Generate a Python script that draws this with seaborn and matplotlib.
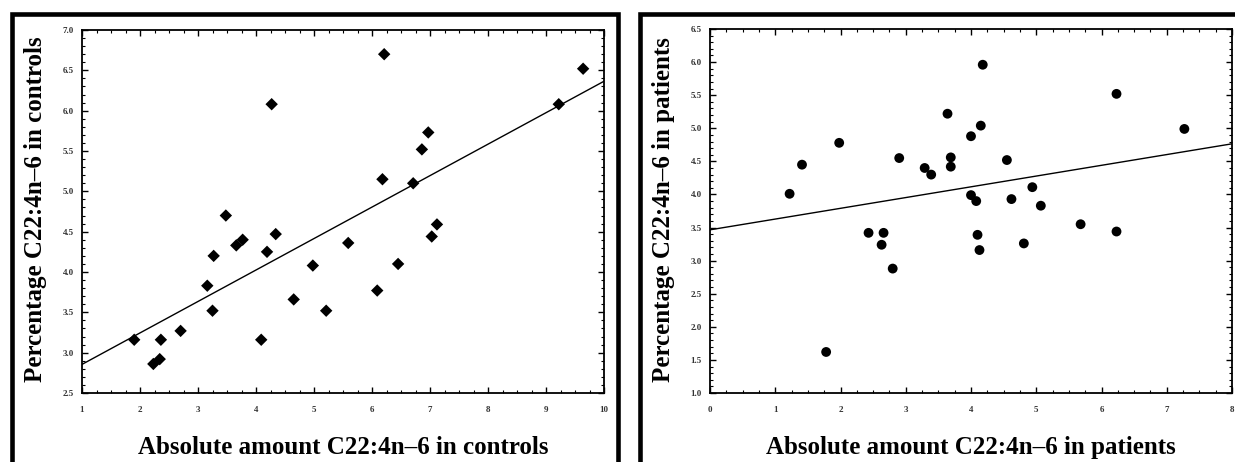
import numpy as np
import pandas as pd
import matplotlib
matplotlib.use("Agg")
import matplotlib.pyplot as plt
import seaborn as sns
from matplotlib.patches import Rectangle
from matplotlib.ticker import MultipleLocator

# ---- data ----
ctrl_abs = [1.90, 2.23, 2.34, 2.36, 2.70, 3.16, 3.25, 3.27, 3.48, 3.66,
            3.77, 4.09, 4.19, 4.27, 4.34, 4.65, 4.98, 5.21, 5.59, 6.09,
            6.18, 6.21, 6.45, 6.71, 6.86, 6.97, 7.03, 7.12, 9.22, 9.64]
ctrl_pct = [3.16, 2.86, 2.92, 3.16, 3.27, 3.83, 3.52, 4.20, 4.70, 4.33,
            4.40, 3.16, 4.25, 6.08, 4.47, 3.66, 4.08, 3.52, 4.36, 3.77,
            5.15, 6.70, 4.10, 5.10, 5.52, 5.73, 4.44, 4.59, 6.08, 6.52]

pat_abs = [1.22, 1.41, 1.78, 1.98, 2.43, 2.63, 2.66, 2.80, 2.90, 3.29,
           3.39, 3.64, 3.69, 3.69, 4.00, 4.00, 4.08, 4.10, 4.13, 4.15,
           4.18, 4.55, 4.62, 4.81, 4.94, 5.07, 5.68, 6.23, 6.23, 7.27]
pat_pct = [4.01, 4.45, 1.62, 4.78, 3.42, 3.24, 3.42, 2.88, 4.55, 4.40,
           4.30, 5.22, 4.56, 4.42, 4.88, 3.99, 3.90, 3.39, 3.16, 5.04,
           5.96, 4.52, 3.93, 3.26, 4.11, 3.83, 3.55, 5.52, 3.44, 4.99]

ctrl_xticks = [1, 2, 3, 4, 5, 6, 7, 8, 9, 10]
ctrl_yticks = [2.5, 3.0, 3.5, 4.0, 4.5, 5.0, 5.5, 6.0, 6.5, 7.0]
pat_xticks = [0, 1, 2, 3, 4, 5, 6, 7, 8]
pat_yticks = [1.0, 1.5, 2.0, 2.5, 3.0, 3.5, 4.0, 4.5, 5.0, 5.5, 6.0, 6.5]

ctrl_xlabel = "Absolute amount C22:4n\u20136 in controls"
ctrl_ylabel = "Percentage C22:4n\u20136 in controls"
pat_xlabel = "Absolute amount C22:4n\u20136 in patients"
pat_ylabel = "Percentage C22:4n\u20136 in patients"

df_ctrl = pd.DataFrame({"abs": ctrl_abs, "pct": ctrl_pct})
df_pat = pd.DataFrame({"abs": pat_abs, "pct": pat_pct})

sns.set_theme(style="ticks")
plt.rcParams["font.family"] = ["Liberation Serif", "DejaVu Serif"]

W, H = 1235, 462
fig = plt.figure(figsize=(W / 100, H / 100), dpi=100)
fig.patch.set_facecolor("white")

def px_axes(left, top, right, bottom):
    return fig.add_axes([left / W, 1 - bottom / H, (right - left) / W, (bottom - top) / H])

ax1 = px_axes(82, 30, 604, 393)
ax2 = px_axes(710, 29, 1232, 393)

def style(ax, xticks, yticks, xlabel, ylabel):
    ax.set_xlim(xticks[0], xticks[-1])
    ax.set_ylim(yticks[0], yticks[-1])
    ax.set_xticks(xticks)
    ax.set_yticks(yticks)
    ax.set_xticklabels([f"{t:g}" for t in xticks])
    ax.set_yticklabels([f"{t:.1f}" for t in yticks])
    ax.xaxis.set_minor_locator(MultipleLocator(0.25))
    ax.yaxis.set_minor_locator(MultipleLocator(0.1))
    for s in ax.spines.values():
        s.set_visible(True)
        s.set_linewidth(1.3)
        s.set_color("black")
    ax.tick_params(which="both", direction="in", top=True, right=True,
                   color="black")
    ax.tick_params(which="major", length=4, width=1.0)
    ax.tick_params(which="minor", length=2, width=0.8)
    ax.tick_params(axis="x", which="major", pad=9.5, labelsize=6.5,
                   labelcolor="#333333")
    ax.tick_params(axis="y", which="major", pad=6, labelsize=6.5,
                   labelcolor="#333333")
    for lab in ax.get_xticklabels() + ax.get_yticklabels():
        lab.set_fontweight("bold")
    ax.set_xlabel(xlabel, fontsize=18, fontweight="bold", color="black")
    ax.set_ylabel(ylabel, fontsize=18, fontweight="bold", color="black")
    ax.xaxis.set_label_coords(0.5, -0.118)
    ax.set_facecolor("white")
    ax.grid(False)

style(ax1, ctrl_xticks, ctrl_yticks, ctrl_xlabel, ctrl_ylabel)
style(ax2, pat_xticks, pat_yticks, pat_xlabel, pat_ylabel)

sns.regplot(data=df_ctrl, x="abs", y="pct", ax=ax1, ci=None, truncate=False,
            marker="D", color="black",
            scatter_kws={"s": 40, "color": "black", "edgecolors": "none", "alpha": 1},
            line_kws={"color": "black", "linewidth": 1.0})
sns.regplot(data=df_pat, x="abs", y="pct", ax=ax2, ci=None, truncate=False,
            marker="o", color="black",
            scatter_kws={"s": 50, "color": "black", "edgecolors": "none", "alpha": 1},
            line_kws={"color": "black", "linewidth": 1.0})

# restore axis labels / limits after regplot
style(ax1, ctrl_xticks, ctrl_yticks, ctrl_xlabel, ctrl_ylabel)
style(ax2, pat_xticks, pat_yticks, pat_xlabel, pat_ylabel)
ax1.yaxis.set_label_coords(-0.067, 0.507)
ax2.yaxis.set_label_coords(-0.067, 0.504)

# outer panel frames (open at the bottom)
lw = 3.3
for x0, x1 in [(11.5, 617.5), (639.5, 1240)]:
    fig.add_artist(Rectangle((x0 / W, -0.1), (x1 - x0) / W, 1.1 - 14 / H,
                             transform=fig.transFigure, fill=False,
                             edgecolor="black", linewidth=lw, clip_on=False))

fig.savefig("out.png", dpi=100, facecolor="white")
